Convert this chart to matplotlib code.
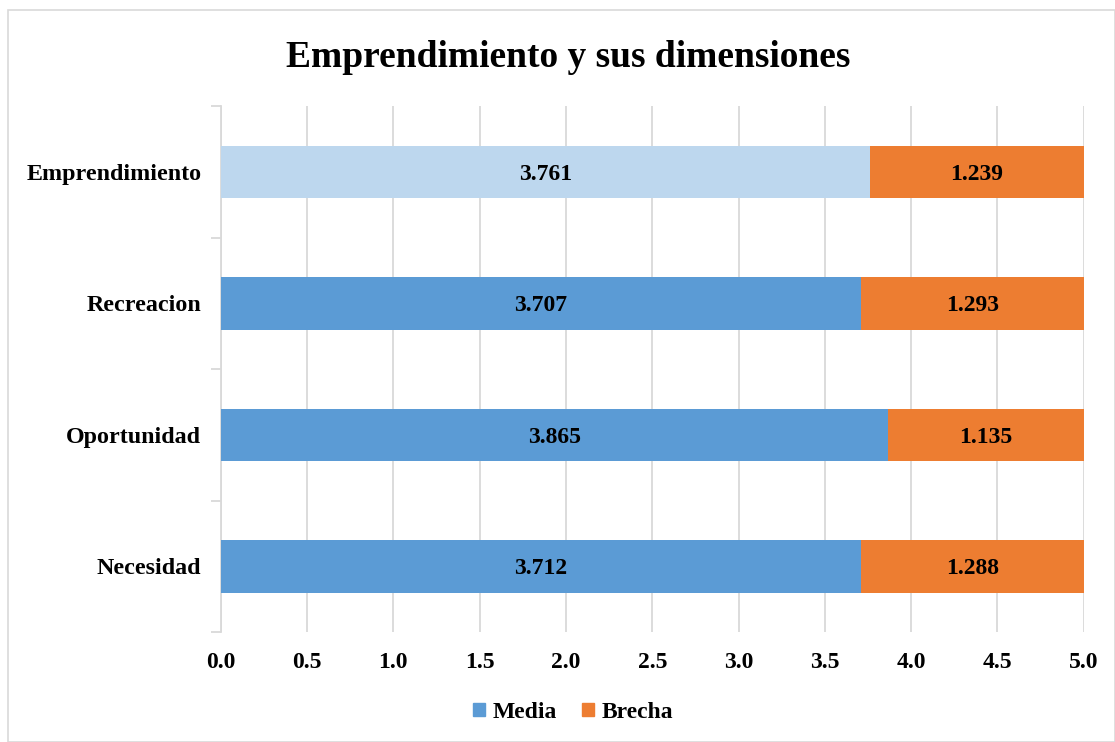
import numpy as np
import matplotlib.pyplot as plt
from matplotlib.patches import Patch, Rectangle

categories = ["Necesidad", "Oportunidad", "Recreacion", "Emprendimiento"]
media = [3.712, 3.865, 3.707, 3.761]
brecha = [1.288, 1.135, 1.293, 1.239]
media_colors = ["#5B9BD5", "#5B9BD5", "#5B9BD5", "#BDD7EE"]
brecha_color = "#ED7D31"
xticks = [0.0, 0.5, 1.0, 1.5, 2.0, 2.5, 3.0, 3.5, 4.0, 4.5, 5.0]

plt.rcParams['font.family'] = ['Liberation Serif', 'DejaVu Serif']
plt.rcParams['font.weight'] = 'bold'

fig = plt.figure(figsize=(11.15, 7.42), dpi=100)
ax = fig.add_axes([0.198, 0.148, 0.774, 0.709])

# thin grey frame round the whole chart
fig.patches.append(Rectangle((0.007, 0.0), 0.993, 0.986, transform=fig.transFigure,
                             fill=False, edgecolor='#D9D9D9', lw=1.2))

y = np.arange(len(categories))
ax.barh(y, media, height=0.4, color=media_colors, zorder=3)
ax.barh(y, brecha, left=media, height=0.4, color=brecha_color, zorder=3)

for i in range(len(categories)):
    ax.text(media[i] / 2, y[i], '{:.3f}'.format(media[i]), ha='center', va='center_baseline',
            fontsize=17, fontweight='bold', zorder=4)
    ax.text(media[i] + brecha[i] / 2, y[i], '{:.3f}'.format(brecha[i]), ha='center',
            va='center_baseline', fontsize=17, fontweight='bold', zorder=4)

ax.set_xlim(0, 5)
ax.set_ylim(-0.5, len(categories) - 0.5)
ax.set_xticks(xticks)
ax.set_xticklabels(['{:.1f}'.format(t) for t in xticks], fontsize=17, fontweight='bold')
ax.set_yticks(y)
ax.set_yticklabels(categories, fontsize=17.3, fontweight='bold')
ax.tick_params(axis='x', length=0, pad=14)
ax.tick_params(axis='y', length=0, pad=14)
ax.xaxis.grid(True, color='#D9D9D9', lw=1.3, zorder=0)

# category boundary ticks on the left spine
ax.set_yticks(np.arange(-0.5, len(categories), 1.0), minor=True)
ax.tick_params(axis='y', which='minor', length=7, color='#D9D9D9', width=1.3)

for s in ['top', 'right', 'bottom']:
    ax.spines[s].set_visible(False)
ax.spines['left'].set_color('#D9D9D9')
ax.spines['left'].set_linewidth(1.3)

fig.text(0.51, 0.923, "Emprendimiento y sus dimensiones", ha='center', va='center',
         fontsize=27, fontweight='bold')

handles = [Patch(color="#5B9BD5", label="Media"), Patch(color=brecha_color, label="Brecha")]
fig.legend(handles=handles, loc='center', bbox_to_anchor=(0.514, 0.04), ncol=2, frameon=False,
           prop={'size': 17, 'weight': 'bold'}, handlelength=0.5, handleheight=0.5,
           handletextpad=0.3, columnspacing=1.1)

plt.savefig("out.png", dpi=100)
